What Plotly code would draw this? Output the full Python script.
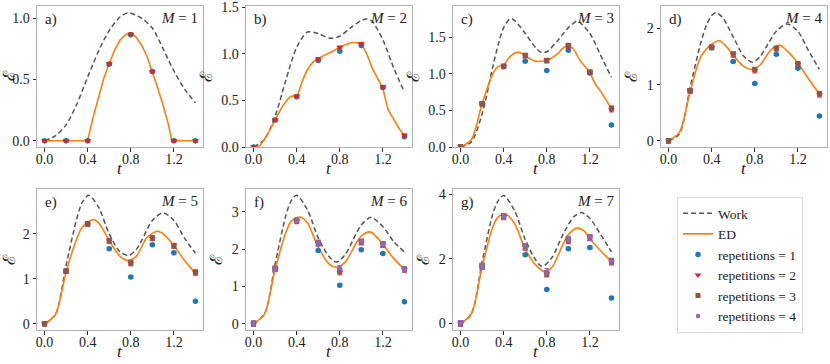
import plotly.graph_objects as go

# ---------------- data ----------------
T_PTS = [0.0, 0.2, 0.4, 0.6, 0.8, 1.0, 1.2, 1.4]
X_TICKS = [0.0, 0.4, 0.8, 1.2]
PANEL_LABELS = ["a)", "b)", "c)", "d)", "e)", "f)", "g)"]
M_VALUES = [1, 2, 3, 4, 5, 6, 7]

# Work curves (t, value)
WORK1_T = [0, 0.1, 0.2, 0.3, 0.4, 0.5, 0.6, 0.7, 0.78, 0.9, 1.0, 1.1, 1.2, 1.3, 1.4]
WORK1_E = [0, 0.04, 0.13, 0.3, 0.52, 0.73, 0.9, 1.01, 1.045, 1.0, 0.92, 0.75, 0.57, 0.42, 0.31]
WORK2_T = [0, 0.1, 0.2, 0.3, 0.4, 0.5, 0.6, 0.7, 0.8, 0.9, 1.0, 1.05, 1.1, 1.2, 1.3, 1.4]
WORK2_E = [0, 0.08, 0.33, 0.72, 1.07, 1.235, 1.22, 1.17, 1.19, 1.28, 1.36, 1.375, 1.35, 1.15, 0.85, 0.59]
WORK3_T = [0, 0.1, 0.2, 0.3, 0.35, 0.4, 0.46, 0.5, 0.6, 0.7, 0.75, 0.8, 0.9, 1.0, 1.08, 1.1, 1.2, 1.3, 1.4]
WORK3_E = [0, 0.07, 0.45, 1.1, 1.4, 1.63, 1.75, 1.73, 1.55, 1.35, 1.29, 1.3, 1.45, 1.63, 1.72, 1.71, 1.55, 1.25, 0.95]
WORK4_T = [0, 0.1, 0.2, 0.3, 0.35, 0.4, 0.44, 0.5, 0.6, 0.7, 0.78, 0.85, 0.9, 1.0, 1.1, 1.2, 1.3, 1.4]
WORK4_E = [0, 0.12, 0.95, 1.75, 2.05, 2.23, 2.28, 2.2, 1.85, 1.5, 1.4, 1.5, 1.65, 1.95, 2.08, 1.95, 1.6, 1.27]
WORK5_T = [0, 0.1, 0.2, 0.3, 0.35, 0.41, 0.5, 0.6, 0.7, 0.78, 0.85, 0.9, 1.0, 1.1, 1.2, 1.3, 1.4]
WORK5_E = [0, 0.2, 1.3, 2.35, 2.7, 2.86, 2.6, 2.0, 1.6, 1.52, 1.65, 1.85, 2.3, 2.47, 2.3, 1.9, 1.57]
WORK6_T = [0, 0.1, 0.2, 0.3, 0.35, 0.4, 0.5, 0.6, 0.7, 0.77, 0.85, 0.95, 1.0, 1.09, 1.2, 1.3, 1.4]
WORK6_E = [0, 0.25, 1.6, 2.9, 3.3, 3.44, 3.05, 2.3, 1.8, 1.65, 1.85, 2.4, 2.65, 2.85, 2.6, 2.2, 1.92]
WORK7_T = [0, 0.1, 0.2, 0.3, 0.35, 0.4, 0.5, 0.6, 0.7, 0.76, 0.85, 0.95, 1.05, 1.12, 1.2, 1.3, 1.4]
WORK7_E = [0, 0.3, 1.9, 3.4, 3.8, 3.96, 3.5, 2.6, 1.95, 1.76, 2.05, 2.75, 3.3, 3.43, 3.25, 2.75, 2.22]

# ED curves (t, value)
ED1_T = [0, 0.2, 0.4, 0.45, 0.5, 0.55, 0.6, 0.65, 0.7, 0.75, 0.78, 0.82, 0.85, 0.9, 0.95, 1.0, 1.05, 1.1, 1.15, 1.18, 1.2, 1.4]
ED1_E = [0, 0, 0, 0.19, 0.36, 0.51, 0.63, 0.74, 0.82, 0.865, 0.875, 0.865, 0.845, 0.78, 0.69, 0.565, 0.43, 0.29, 0.13, 0.0, 0, 0]
ED2_T = [0, 0.05, 0.1, 0.15, 0.2, 0.25, 0.3, 0.35, 0.4, 0.45, 0.5, 0.55, 0.6, 0.7, 0.8, 0.9, 0.95, 1.0, 1.05, 1.1, 1.15, 1.2, 1.25, 1.3, 1.35, 1.4]
ED2_E = [0, 0.01, 0.08, 0.18, 0.29, 0.4, 0.49, 0.545, 0.55, 0.7, 0.83, 0.91, 0.95, 1.01, 1.07, 1.12, 1.12, 1.1, 1.0, 0.85, 0.74, 0.62, 0.4, 0.3, 0.2, 0.12]
ED3_T = [0, 0.1, 0.2, 0.3, 0.35, 0.4, 0.45, 0.5, 0.55, 0.6, 0.65, 0.7, 0.75, 0.8, 0.9, 0.95, 1.0, 1.05, 1.1, 1.2, 1.25, 1.3, 1.4]
ED3_E = [0, 0.1, 0.59, 1.0, 1.1, 1.12, 1.22, 1.28, 1.29, 1.25, 1.2, 1.17, 1.17, 1.18, 1.27, 1.35, 1.38, 1.33, 1.2, 1.01, 0.86, 0.76, 0.52]
ED4_T = [0, 0.1, 0.2, 0.3, 0.4, 0.47, 0.55, 0.6, 0.7, 0.78, 0.85, 0.95, 1.03, 1.1, 1.2, 1.3, 1.4]
ED4_E = [0, 0.15, 0.87, 1.5, 1.72, 1.78, 1.65, 1.52, 1.32, 1.27, 1.35, 1.62, 1.7, 1.6, 1.38, 1.1, 0.83]
ED5_T = [0, 0.1, 0.2, 0.3, 0.35, 0.45, 0.5, 0.6, 0.7, 0.77, 0.85, 0.95, 1.05, 1.1, 1.2, 1.3, 1.4]
ED5_E = [0, 0.2, 1.15, 1.9, 2.15, 2.32, 2.25, 1.85, 1.5, 1.41, 1.5, 1.92, 2.06, 2.0, 1.74, 1.4, 1.12]
ED6_T = [0, 0.1, 0.2, 0.3, 0.35, 0.43, 0.5, 0.6, 0.7, 0.77, 0.85, 0.95, 1.0, 1.08, 1.15, 1.2, 1.3, 1.4]
ED6_E = [0, 0.25, 1.45, 2.45, 2.75, 2.86, 2.7, 2.05, 1.6, 1.51, 1.65, 2.15, 2.35, 2.46, 2.3, 2.12, 1.75, 1.45]
ED7_T = [0, 0.1, 0.2, 0.3, 0.35, 0.42, 0.5, 0.6, 0.7, 0.78, 0.85, 0.95, 1.0, 1.08, 1.15, 1.2, 1.3, 1.4]
ED7_E = [0, 0.3, 1.75, 3.0, 3.3, 3.38, 3.1, 2.3, 1.8, 1.61, 1.75, 2.45, 2.75, 2.95, 2.85, 2.62, 2.25, 1.92]

# repetition measurements at T_PTS
M1_REP1 = [0, 0, 0, 0.625, 0.865, 0.565, 0, 0]
M1_REP2 = [0, 0, 0, 0.63, 0.87, 0.565, 0, 0]
M2_REP1 = [0, 0.29, 0.54, 0.93, 1.03, 1.09, 0.64, 0.11]
M2_REP2 = [0, 0.29, 0.545, 0.945, 1.07, 1.11, 0.645, 0.125]
M3_REP1 = [0, 0.59, 1.10, 1.17, 1.045, 1.32, 1.01, 0.30]
M3_REP2 = [0, 0.59, 1.10, 1.245, 1.18, 1.38, 1.02, 0.51]
M3_REP3 = [0, 0.59, 1.10, 1.25, 1.18, 1.385, 1.02, 0.53]
M4_REP1 = [0, 0.89, 1.66, 1.41, 1.02, 1.54, 1.29, 0.44]
M4_REP2 = [0, 0.89, 1.66, 1.53, 1.25, 1.64, 1.36, 0.82]
M4_REP3 = [0, 0.89, 1.665, 1.545, 1.27, 1.645, 1.37, 0.84]
M5_REP1 = [0, 1.17, 2.22, 1.67, 1.04, 1.76, 1.58, 0.50]
M5_REP2 = [0, 1.17, 2.22, 1.84, 1.34, 1.90, 1.73, 1.13]
M5_REP3 = [0, 1.17, 2.22, 1.85, 1.36, 1.91, 1.74, 1.15]
M6_REP1 = [0, 1.47, 2.76, 1.96, 1.03, 1.98, 1.88, 0.59]
M6_REP2 = [0, 1.47, 2.75, 2.15, 1.38, 2.18, 2.12, 1.45]
M6_REP3 = [0, 1.47, 2.76, 2.16, 1.42, 2.19, 2.12, 1.46]
M6_REP4 = [0, 1.47, 2.76, 2.17, 1.49, 2.20, 2.13, 1.46]
M7_REP1 = [0, 1.77, 3.31, 2.13, 1.05, 2.31, 2.35, 0.79]
M7_REP2 = [0, 1.77, 3.30, 2.36, 1.53, 2.56, 2.65, 1.90]
M7_REP3 = [0, 1.77, 3.31, 2.37, 1.55, 2.58, 2.66, 1.92]
M7_REP4 = [0, 1.77, 3.31, 2.38, 1.61, 2.61, 2.66, 1.93]

# error-bar half widths per panel (rep 1, rep >= 2)
ERR_REP1 = [0.005, 0.008, 0.01, 0.015, 0.02, 0.025, 0.03]
ERR_REPN = [0.01, 0.015, 0.03, 0.04, 0.05, 0.07, 0.09]

Y_RANGES = [[-0.051, 1.10], [0, 1.515], [0, 1.925], [-0.11, 2.40],
            [-0.14, 3.0], [-0.17, 3.61], [-0.2, 4.16]]
Y_TICKS = [[0.0, 0.5, 1.0], [0.0, 0.5, 1.0, 1.5], [0.0, 0.5, 1.0, 1.5],
           [0, 1, 2], [0, 1, 2], [0, 1, 2, 3], [0, 2, 4]]
Y_FMT = [".1f", ".1f", ".1f", "d", "d", "d", "d"]

WORKS = [(WORK1_T, WORK1_E), (WORK2_T, WORK2_E), (WORK3_T, WORK3_E), (WORK4_T, WORK4_E),
         (WORK5_T, WORK5_E), (WORK6_T, WORK6_E), (WORK7_T, WORK7_E)]
EDS = [(ED1_T, ED1_E), (ED2_T, ED2_E), (ED3_T, ED3_E), (ED4_T, ED4_E),
       (ED5_T, ED5_E), (ED6_T, ED6_E), (ED7_T, ED7_E)]
REPS = [[M1_REP1, M1_REP2], [M2_REP1, M2_REP2], [M3_REP1, M3_REP2, M3_REP3],
        [M4_REP1, M4_REP2, M4_REP3], [M5_REP1, M5_REP2, M5_REP3],
        [M6_REP1, M6_REP2, M6_REP3, M6_REP4], [M7_REP1, M7_REP2, M7_REP3, M7_REP4]]

# ---------------- styling ----------------
W, H = 830, 364
FONT = "'Liberation Serif', 'Times New Roman', 'DejaVu Serif', serif"
COL_X = [(37, 203), (246, 412), (453, 619), (661, 827)]
ROW_Y = [(6, 147), (189, 330)]
REP_STYLE = [
    dict(color="#1f77b4", symbol="circle", size=5.5),
    dict(color="#d62728", symbol="triangle-down", size=6),
    dict(color="#8c564b", symbol="square", size=5),
    dict(color="#9467bd", symbol="circle", size=4.5),
]
ORANGE = "#ff7f0e"
GRAY = "#555555"

fig = go.Figure()
layout = dict(
    width=W, height=H, margin=dict(l=0, r=0, t=0, b=0),
    plot_bgcolor="white", paper_bgcolor="white",
    font=dict(family=FONT, size=14, color="#222"),
    showlegend=True,
    legend=dict(x=677 / W, y=1 - 197 / H, xanchor="left", yanchor="top",
                bgcolor="white", bordercolor="#d8d8d8", borderwidth=1,
                font=dict(family=FONT, size=13.5, color="#222"),
                tracegroupgap=0, itemwidth=30),
)
annotations = []
legend_shown = set()

for i in range(7):
    r, c = divmod(i, 4)
    k = "" if i == 0 else str(i + 1)
    xa, ya = "x" + k, "y" + k
    x0, x1 = COL_X[c]
    y0, y1 = ROW_Y[r]
    axis_common = dict(showline=True, mirror=True, linecolor="#b0b0b0", linewidth=1,
                       showgrid=False, zeroline=False, ticks="outside", ticklen=3.5,
                       tickcolor="#333", automargin=False,
                       tickfont=dict(family=FONT, size=14, color="#222"))
    layout["xaxis" + k] = dict(domain=[x0 / W, x1 / W], anchor=ya, range=[-0.07, 1.47],
                               tickvals=X_TICKS, ticktext=["%.1f" % v for v in X_TICKS],
                               ticklabelstandoff=-4,
                               **axis_common)
    layout["yaxis" + k] = dict(domain=[1 - y1 / H, 1 - y0 / H], anchor=xa, range=Y_RANGES[i],
                               tickvals=Y_TICKS[i],
                               ticktext=[format(v, Y_FMT[i]) for v in Y_TICKS[i]],
                               title=dict(text="ℰ", font=dict(family=FONT, size=17),
                                          standoff=4),
                               **axis_common)

    wt, we = WORKS[i]
    fig.add_trace(go.Scatter(x=wt, y=we, mode="lines", name="Work", xaxis=xa, yaxis=ya,
                             line=dict(color=GRAY, width=1.5, dash="5px,3px", shape="spline",
                                       smoothing=0.8),
                             showlegend=("work" not in legend_shown), legendrank=1))
    legend_shown.add("work")
    et, ee = EDS[i]
    fig.add_trace(go.Scatter(x=et, y=ee, mode="lines", name="ED", xaxis=xa, yaxis=ya,
                             line=dict(color=ORANGE, width=1.6,
                                       shape=("linear" if i == 0 else "spline"),
                                       smoothing=0.8),
                             showlegend=("ed" not in legend_shown), legendrank=2))
    legend_shown.add("ed")
    for j, vals in enumerate(REPS[i]):
        st = REP_STYLE[j]
        key = "rep%d" % j
        err = ERR_REP1[i] if j == 0 else ERR_REPN[i]
        fig.add_trace(go.Scatter(
            x=T_PTS, y=vals, mode="markers", name="repetitions = %d" % (j + 1),
            xaxis=xa, yaxis=ya,
            marker=dict(color=st["color"], symbol=st["symbol"], size=st["size"],
                        line=dict(width=0)),
            error_y=dict(type="constant", value=err, color=st["color"],
                         thickness=1, width=2.5),
            showlegend=(key not in legend_shown), legendrank=3 + j))
        legend_shown.add(key)

    annotations.append(dict(text=PANEL_LABELS[i], xref="paper", yref="paper",
                            x=(x0 + 6) / W, y=1 - (y0 + 3) / H, xanchor="left", yanchor="top",
                            showarrow=False, font=dict(family=FONT, size=15, color="#222")))
    annotations.append(dict(text="<i>M</i> = %d" % M_VALUES[i], xref="paper", yref="paper",
                            x=(x1 - 3) / W, y=1 - (y0 + 2) / H, xanchor="right", yanchor="top",
                            showarrow=False, font=dict(family=FONT, size=15, color="#222")))
    # x-axis label "t"
    annotations.append(dict(text="<i>t</i>", xref="paper", yref="paper",
                            x=(x0 + x1) / 2 / W, y=1 - (y1 + 21) / H,
                            xanchor="center", yanchor="middle",
                            showarrow=False, font=dict(family=FONT, size=17, color="#222")))

layout["annotations"] = annotations
fig.update_layout(**layout)
fig.write_html("out.html", config={"displayModeBar": False},
               post_script="document.body.style.margin='0';document.body.style.padding='0';")
